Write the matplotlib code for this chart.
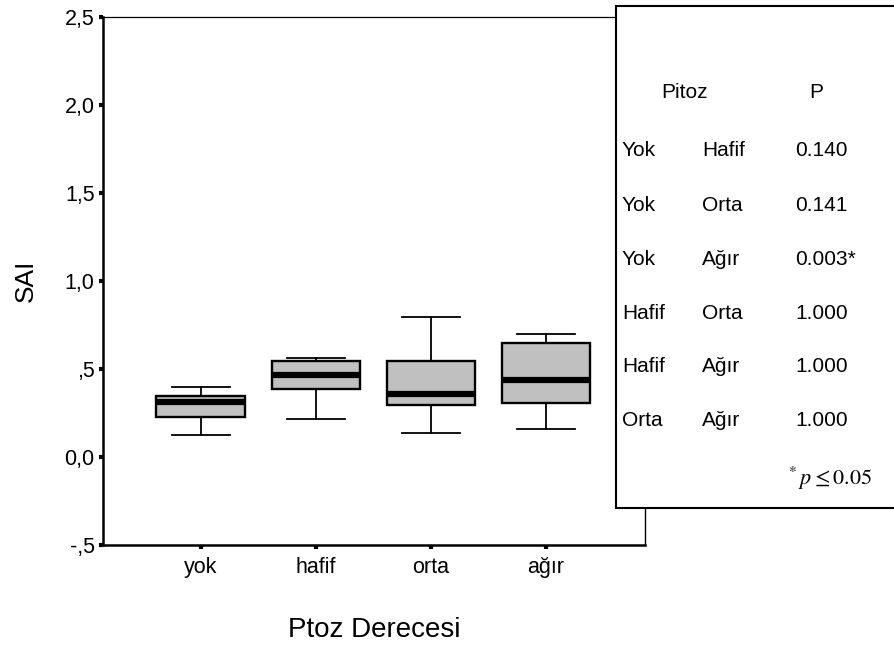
import matplotlib
matplotlib.use("Agg")
import matplotlib.pyplot as plt
from matplotlib.patches import Rectangle

plt.rcParams['font.family'] = ['Liberation Sans', 'DejaVu Sans']

# box statistics
groups = ["yok", "hafif", "orta", "ağır"]
whislo = [0.125, 0.218, 0.135, 0.159]
q1 = [0.227, 0.386, 0.295, 0.305]
med = [0.31, 0.466, 0.36, 0.437]
q3 = [0.347, 0.545, 0.545, 0.648]
whishi = [0.40, 0.56, 0.797, 0.70]

yticks = [-0.5, 0.0, 0.5, 1.0, 1.5, 2.0, 2.5]
ytick_labels = ["-,5", "0,0", ",5", "1,0", "1,5", "2,0", "2,5"]

# pairwise comparison table
pair_a = ["Yok", "Yok", "Yok", "Hafif", "Hafif", "Orta"]
pair_b = ["Hafif", "Orta", "Ağır", "Orta", "Ağır", "Ağır"]
p_vals = ["0.140", "0.141", "0.003*", "1.000", "1.000", "1.000"]

fig = plt.figure(figsize=(8.95, 6.47), dpi=100)
ax = fig.add_axes([0.115, 0.1577, 0.6056, 0.816])

stats = []
for i, g in enumerate(groups):
    stats.append({"label": g, "whislo": whislo[i], "q1": q1[i], "med": med[i],
                  "q3": q3[i], "whishi": whishi[i], "fliers": []})

pos = list(range(1, len(groups) + 1))
ax.bxp(stats, positions=pos, widths=0.77, capwidths=0.5, patch_artist=True,
       showfliers=False,
       boxprops=dict(facecolor="#c0c0c0", edgecolor="black", linewidth=1.7),
       medianprops=dict(color="black", linewidth=4.5),
       whiskerprops=dict(color="black", linewidth=1.3),
       capprops=dict(color="black", linewidth=1.3))

ax.set_xlim(0.15, 4.86)
ax.set_ylim(-0.5, 2.5)
ax.set_yticks(yticks)
ax.set_yticklabels(ytick_labels)
ax.set_xticks(pos)
ax.set_xticklabels(groups)
ax.tick_params(axis="both", direction="out", length=3, width=3, labelsize=15.5,
               color="black", pad=3)
ax.tick_params(axis="x", pad=6)

ax.spines["left"].set_linewidth(1.8)
ax.spines["bottom"].set_linewidth(1.8)
ax.spines["top"].set_linewidth(0.9)
ax.spines["right"].set_linewidth(1.0)

ax.set_xlabel("Ptoz Derecesi", fontsize=20, labelpad=28)
ax.set_ylabel("SAI", fontsize=19, labelpad=19)

# table box drawn on top of the plot
fig.patches.append(Rectangle((0.688, 0.2148), 0.33, 0.776, transform=fig.transFigure,
                             facecolor="white", edgecolor="black", linewidth=1.5,
                             zorder=5))

def fy(y):
    return 1 - y / 647.0

def fx(x):
    return x / 895.0

fig.text(fx(685), fy(92), "Pitoz", fontsize=15, ha="center", va="center", zorder=6)
fig.text(fx(816), fy(92), "P", fontsize=15, ha="center", va="center", zorder=6)
row_y = [150, 205, 259, 313, 366, 420]
for i in range(len(pair_a)):
    fig.text(fx(622), fy(row_y[i]), pair_a[i], fontsize=15, va="center", zorder=6)
    fig.text(fx(702), fy(row_y[i]), pair_b[i], fontsize=15, va="center", zorder=6)
    fig.text(fx(795), fy(row_y[i]), p_vals[i], fontsize=15, va="center", zorder=6)

fig.text(fx(788), fy(478), r"$^{*}\,p \leq 0.05$", fontsize=16, va="center", zorder=6,
         math_fontfamily="stix")

fig.savefig("out.png", dpi=100)
